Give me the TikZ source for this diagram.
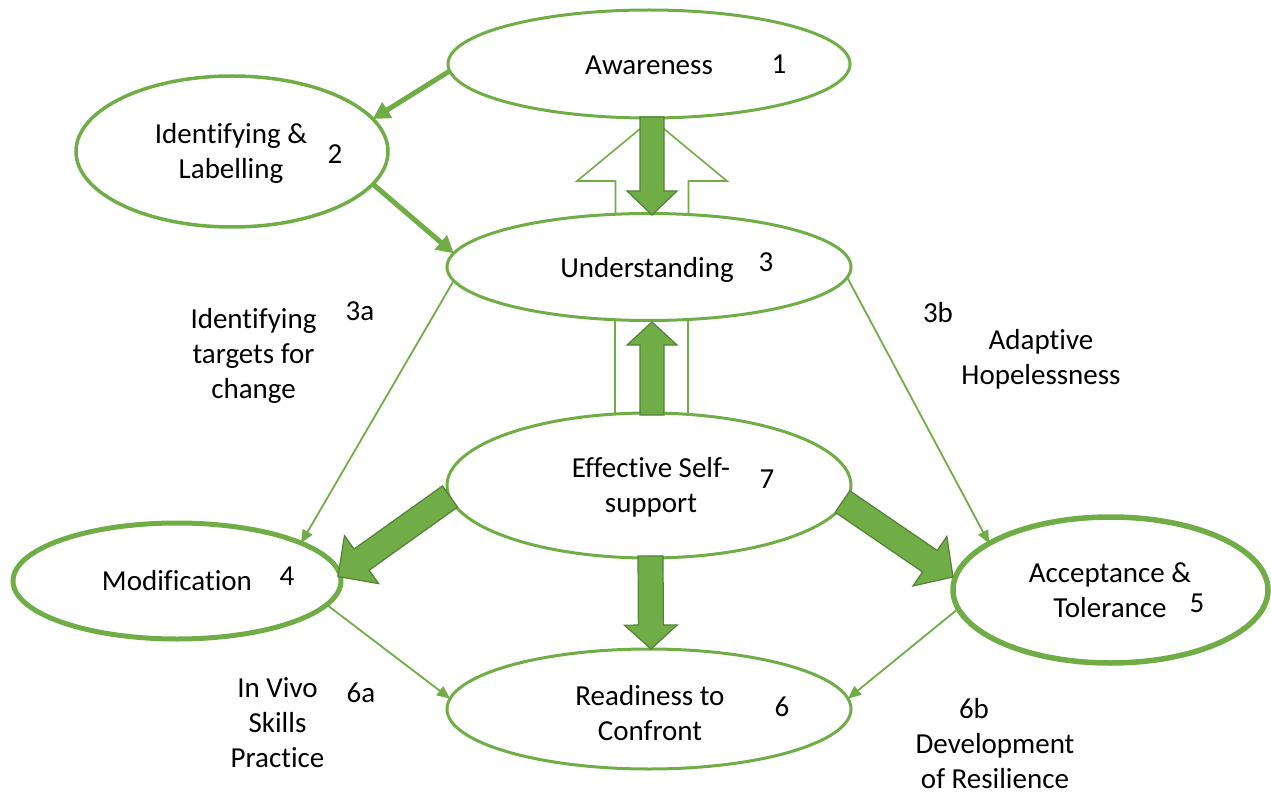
\documentclass[tikz,border=0pt]{standalone}
\usepackage{fontspec}
\setmainfont{Carlito}[Ligatures={NoCommon,NoContextual},Contextuals=NoAlternate]
\usetikzlibrary{shapes.geometric,arrows.meta,calc}
\definecolor{grn}{HTML}{70AD47}
\definecolor{dgrn}{HTML}{538135}
\newcommand\mlines[1]{\begin{tabular}[t]{@{}c@{}}#1\end{tabular}}
% block arrow: [style]{start}{tip}{shaft half width}{head half width}{head length}
\newcommand\blkarrow[6][]{%
  \coordinate (ba-c) at ($(#3)!#6!(#2)$);
  \draw[#1] ($(#2)!#4!90:(#3)$) -- ($(ba-c)!#4!90:(#3)$) -- ($(ba-c)!#5!90:(#3)$)
    -- (#3) -- ($(ba-c)!#5!-90:(#3)$) -- ($(ba-c)!#4!-90:(#3)$)
    -- ($(#2)!#4!-90:(#3)$) -- cycle;}
\begin{document}
\begin{tikzpicture}[x=1pt,y=-1pt,
  ell/.style={ellipse, draw=grn, fill=white, inner sep=0pt, outer sep=0pt},
  lbl/.style={anchor=base, inner sep=0pt, font=\fontsize{29}{35}\selectfont},
  fineconn/.style={draw=grn, line width=1.8pt, -{Triangle[length=13pt,width=11pt]}},
  boldconn/.style={draw=grn, line width=5pt, -{Triangle[length=17pt,width=18pt]}},
  solidarrow/.style={fill=grn, draw=dgrn, line width=1.2pt},
  hollowarrow/.style={fill=white, draw=grn, line width=1.6pt}]
\useasboundingbox (0,0) rectangle (1271,794);

% hollow block shapes (behind the ellipses)
\coordinate (hu-s) at (652,232);
\coordinate (hu-e) at (652,119);
\blkarrow[hollowarrow]{hu-s}{hu-e}{36.5pt}{75pt}{62pt}
\draw[hollowarrow] (615,315) rectangle (688,420);

% ellipses
\node[ell, line width=3pt, minimum width=402pt, minimum height=108pt] (aw) at (649,64) {};
\node[ell, line width=3.5pt, minimum width=312pt, minimum height=151pt] (id) at (232,151.5) {};
\node[ell, line width=3pt, minimum width=404pt, minimum height=107pt] (und) at (649,267) {};
\node[ell, line width=3pt, minimum width=404pt, minimum height=145pt] (eff) at (649,485.5) {};
\node[ell, line width=5pt, minimum width=328pt, minimum height=116pt] (mod) at (177,581) {};
\node[ell, line width=5.5pt, minimum width=315pt, minimum height=146pt] (acc) at (1110.5,590) {};
\node[ell, line width=3pt, minimum width=404pt, minimum height=120pt] (rdy) at (649,709) {};

% connectors
\draw[boldconn] (aw.182) -- (id.13);
\draw[boldconn] (id.-13) -- (und.176);
\draw[fineconn] (und.184) -- (mod.17);
\draw[fineconn] (und.-3) -- (acc.159);
\draw[fineconn] (mod.-9) -- (rdy.177);
\draw[fineconn] (acc.187) -- (rdy.3);

% solid block arrows
\coordinate (b1-s) at (652,117);
\coordinate (b1-e) at (652,215);
\blkarrow[solidarrow]{b1-s}{b1-e}{12pt}{25pt}{24pt}
\coordinate (b2-s) at (652,415);
\coordinate (b2-e) at (652,322);
\blkarrow[solidarrow]{b2-s}{b2-e}{12pt}{25pt}{23pt}
\coordinate (b3-s) at (450,496.5);
\coordinate (b3-e) at (338,576.5);
\blkarrow[solidarrow]{b3-s}{b3-e}{13pt}{29.5pt}{29pt}
\coordinate (b4-s) at (842.5,501.5);
\coordinate (b4-e) at (953,577);
\blkarrow[solidarrow]{b4-s}{b4-e}{13pt}{30pt}{28pt}
\coordinate (b5-s) at (650.5,556);
\coordinate (b5-e) at (651,649);
\blkarrow[solidarrow]{b5-s}{b5-e}{12.5pt}{26.5pt}{24pt}

% texts
\node[lbl] (t1) at (649,74.5) {Awareness};
\node[lbl] (n1) at (779,74) {1};
\node[lbl] (t2) at (231,144) {\mlines{Identifying \&\\Labelling}};
\node[lbl] (n2) at (335,164) {2};
\node[lbl] (t3) at (647,277) {Understanding};
\node[lbl] (n3) at (766,272) {3};
\node[lbl] (t3a) at (253.5,328) {\mlines{Identifying\\targets for\\change}};
\node[lbl] (n3a) at (360,320) {3a};
\node[lbl] (n3b) at (938,322) {3b};
\node[lbl] (t3b) at (1041,349) {\mlines{Adaptive\\Hopelessness}};
\node[lbl] (t7) at (651,477) {\mlines{Effective Self-\\support}};
\node[lbl] (n7) at (767,488) {7};
\node[lbl] (t4) at (177,590) {Modification};
\node[lbl] (n4) at (287,585) {4};
\node[lbl] (t5) at (1110,582) {\mlines{Acceptance \&\\Tolerance}};
\node[lbl] (n5) at (1197,612) {5};
\node[lbl] (t6) at (650,705) {\mlines{Readiness to\\Confront}};
\node[lbl] (n6) at (782,716) {6};
\node[lbl] (t6a) at (277.5,697) {\mlines{In Vivo\\Skills\\Practice}};
\node[lbl] (n6a) at (361,702) {6a};
\node[lbl] (n6b) at (974,718) {6b};
\node[lbl] (t6b) at (995,753) {\mlines{Development\\of Resilience}};
\end{tikzpicture}
\end{document}
